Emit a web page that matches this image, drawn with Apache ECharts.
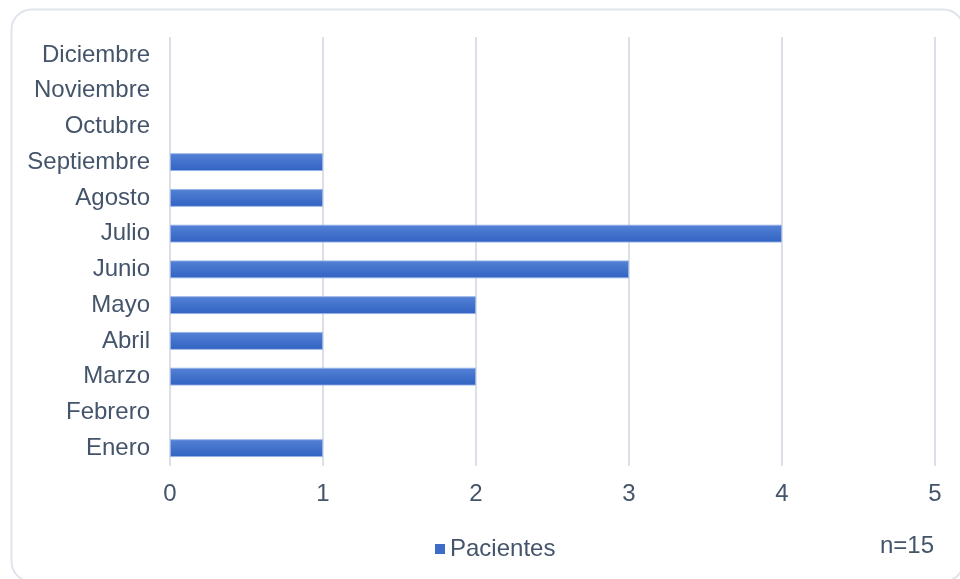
<!DOCTYPE html>
<html>
<head>
<meta charset="utf-8">
<script src="https://cdn.jsdelivr.net/npm/echarts@6/dist/echarts.min.js"></script>
<style>
html,body{margin:0;padding:0;background:#fff;}
#c{width:960px;height:579px;}
</style>
</head>
<body>
<div id="c"></div>
<script>
const months = ['Enero','Febrero','Marzo','Abril','Mayo','Junio','Julio','Agosto','Septiembre','Octubre','Noviembre','Diciembre'];
const pacientes = [1, 0, 2, 1, 2, 3, 4, 1, 1, 0, 0, 0];
const xTicks = [0, 1, 2, 3, 4, 5];
const seriesName = 'Pacientes';
const noteText = 'n=15';

const textColor = '#44546a';
const fontFamily = '"Liberation Sans", Arial, sans-serif';
const fs = 24;

const chart = echarts.init(document.getElementById('c'), null, {renderer: 'canvas'});
chart.setOption({
  backgroundColor: '#ffffff',
  animation: false,
  grid: {left: 170, right: 25, top: 37, bottom: 113, containLabel: false},
  xAxis: {
    type: 'value',
    min: xTicks[0],
    max: xTicks[xTicks.length - 1],
    interval: 1,
    axisLine: {show: false},
    axisTick: {show: false},
    axisLabel: {color: textColor, fontSize: fs, fontFamily: fontFamily, margin: 16},
    splitLine: {show: true, lineStyle: {color: '#dcdfe8', width: 2}}
  },
  yAxis: {
    type: 'category',
    data: months,
    axisLine: {show: false},
    axisTick: {show: false},
    axisLabel: {color: textColor, fontSize: fs, fontFamily: fontFamily, margin: 20},
    splitLine: {show: false}
  },
  legend: {
    show: true,
    left: 430,
    top: 532,
    itemWidth: 10,
    itemHeight: 10,
    itemGap: 6,
    icon: 'rect',
    itemStyle: {color: '#3d6cc8', borderWidth: 0},
    textStyle: {color: textColor, fontSize: fs, fontFamily: fontFamily},
    data: [seriesName]
  },
  series: [{
    name: seriesName,
    type: 'bar',
    data: pacientes.map(v => v === 0 ? null : v),
    barCategoryGap: '50%',
    itemStyle: {
      color: new echarts.graphic.LinearGradient(0, 0, 0, 1, [
        {offset: 0, color: '#5582d6'},
        {offset: 1, color: '#3062c2'}
      ]),
      borderColor: 'rgba(150,178,228,0.9)',
      borderWidth: 1
    }
  }],
  graphic: [
    {
      type: 'rect',
      left: 9, top: 7,
      shape: {width: 952, height: 572, r: 20},
      style: {fill: 'none', stroke: '#e0e4eb', lineWidth: 2},
      z: -10
    },
    {
      type: 'text',
      left: 880, top: 534,
      style: {text: noteText, fill: textColor, font: fs + 'px ' + fontFamily}
    }
  ]
});
</script>
</body>
</html>
